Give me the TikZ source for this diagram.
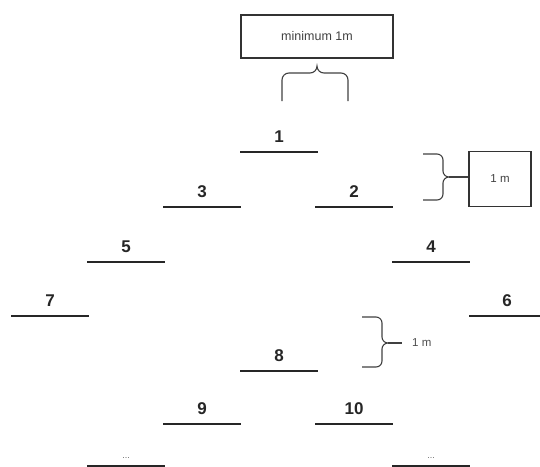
\documentclass[tikz,border=0pt]{standalone}
\usepackage{fontspec}
\setmainfont{Liberation Sans}
\begin{document}
\begin{tikzpicture}[x=1pt,y=-1pt,
  bar/.style={line width=2.6pt,black!85},
  num/.style={font=\bfseries\fontsize{17}{17}\selectfont,text=black!85,inner sep=0pt},
  dots/.style={font=\fontsize{9}{9}\selectfont,text=black!60,inner sep=0pt},
  brc/.style={line width=1.1pt,black!75},
  lbox/.style={draw,line width=1.2pt,black!80,text=black!75,inner sep=0pt},
  small/.style={font=\fontsize{11.5}{11.5}\selectfont,text=black!70,inner sep=0pt}]
\useasboundingbox (0,0) rectangle (540,466);
% bars
\draw[bar] (240,152) -- (318,152) node[midway,num,above=8pt] (l1) {1};
\draw[bar] (163,207) -- (241,207) node[midway,num,above=8pt] (l3) {3};
\draw[bar] (315,207) -- (393,207) node[midway,num,above=8pt] (l2) {2};
\draw[bar] (87,262) -- (165,262) node[midway,num,above=8pt] (l5) {5};
\draw[bar] (392,262) -- (470,262) node[midway,num,above=8pt] (l4) {4};
\draw[bar] (11,316) -- (89,316) node[midway,num,above=8pt] (l7) {7};
\draw[bar] (469,316) -- (547,316) node[pos=0.5,num,above=8pt,xshift=-1pt] (l6) {6};
\draw[bar] (240,371) -- (318,371) node[midway,num,above=8pt] (l8) {8};
\draw[bar] (163,424) -- (241,424) node[midway,num,above=8pt] (l9) {9};
\draw[bar] (315,424) -- (393,424) node[midway,num,above=8pt] (l10) {10};
\draw[bar] (87,466) -- (165,466) node[midway,dots,above=6pt] (d1) {...};
\draw[bar] (392,466) -- (470,466) node[midway,dots,above=6pt] (d2) {...};
% top box and brace
\node[lbox,font=\fontsize{12.5}{12.5}\selectfont,minimum width=152pt,minimum height=43pt] (minbox) at (317,36.5) {minimum 1m};
\coordinate (t1) at (317,66);
\draw[brc] (282,101) -- (282,80) to[out=90,in=180] (289,73) -- (310,73)
  to[out=0,in=-90] (t1) to[out=-90,in=180] (324,73) -- (341,73)
  to[out=0,in=90] (348,80) -- (348,101);
% right brace 1 with box
\node[lbox,font=\fontsize{11.5}{11.5}\selectfont,minimum width=62pt,minimum height=55pt] (box1) at (500,179) {1 m};
\coordinate (t2) at (449,177);
\draw[brc] (423,154) -- (437,154) to[out=0,in=90] (443,160) -- (443,171)
  to[out=-90,in=180] (t2) to[out=180,in=90] (443,183) -- (443,194)
  to[out=-90,in=0] (437,200) -- (423,200);
\draw[brc] (t2) -- (box1.west |- t2);
% right brace 2 with label
\node[small,anchor=west] (lab2) at (412,343) {1 m};
\coordinate (t3) at (388,343);
\draw[brc] (362,317) -- (376,317) to[out=0,in=90] (382,323) -- (382,337)
  to[out=-90,in=180] (t3) to[out=180,in=90] (382,349) -- (382,361)
  to[out=-90,in=0] (376,367) -- (362,367);
\draw[brc] (t3) -- (402,343);
\end{tikzpicture}
\end{document}
